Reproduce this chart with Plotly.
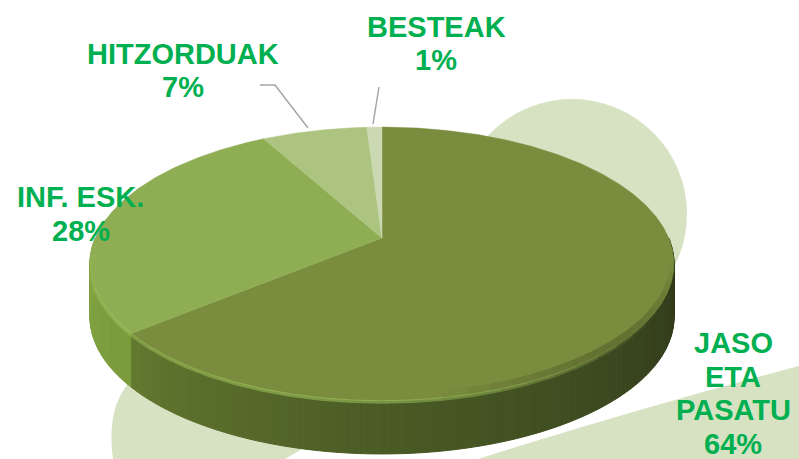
import numpy as np
import plotly.graph_objects as go

# ---------------- data ----------------
categories = ["JASO ETA PASATU", "INF. ESK.", "HITZORDUAK", "BESTEAK"]
values = [64, 28, 7, 1]
label_lines = [["JASO", "ETA", "PASATU"], ["INF. ESK."], ["HITZORDUAK"], ["BESTEAK"]]

# ---------------- styles / layout constants ----------------
W, H = 799, 459
top_rgb = [(122, 140, 62), (143, 174, 84), (172, 196, 128), (203, 217, 178)]
# side colour stops (angle, rgb) per slice: angle measured clockwise from 12 o'clock
side_stops = [
    [(90, (46, 54, 25)), (120, (54, 65, 29)), (180, (74, 91, 37)), (232, (100, 122, 48))],
    [(230, (122, 154, 60)), (270, (130, 165, 66))],
    [(330, (160, 185, 115))],
    [(356, (190, 205, 165))],
]
LABEL_COLOR = "rgb(0,176,80)"
FONT = "Liberation Sans, Arial, sans-serif"
FONT_SIZE = 29
LINE_PITCH = 33.5
# label anchor (centre x, cap-middle y of first line) per category
label_pos = [(733, 343), (80.5, 197), (182.5, 53.5), (436, 26.5)]

# perspective pie geometry (pixel space)
VX, VY = 382.0, 238.0
A, B, K = 286.7, 132.0, 0.19
DEPTH = 53.0


def proj(theta_deg, dy=0.0):
    t = np.radians(theta_deg)
    u = np.sin(t)
    v = -np.cos(t)
    w = 1 - K * v
    return VX + A * u / w, VY + B * v / w + dy


def rgb(c):
    return "rgb(%d,%d,%d)" % tuple(int(max(0, min(255, round(x)))) for x in c)


def side_color(i, t):
    stops = side_stops[i]
    if t <= stops[0][0]:
        return stops[0][1]
    for (t0, c0), (t1, c1) in zip(stops[:-1], stops[1:]):
        if t <= t1:
            f = (t - t0) / (t1 - t0)
            return tuple(a + (b - a) * f for a, b in zip(c0, c1))
    return stops[-1][1]


fig = go.Figure()

total = float(sum(values))
bounds = []
acc = 0.0
for v in values:
    a0 = acc / total * 360
    acc += v
    a1 = acc / total * 360
    bounds.append((a0, a1))

# ---- side wall (front visible part), drawn as shaded strips ----
for i, (a0, a1) in enumerate(bounds):
    s0, s1 = max(a0, 90), min(a1, 270)
    if s1 <= s0:
        continue
    n = max(1, int(np.ceil(s1 - s0)))
    ts = np.linspace(s0, s1, n + 1)
    for j in range(n):
        t0, t1 = ts[j], ts[j + 1]
        xa, ya = proj(t0)
        xb, yb = proj(t1)
        col = rgb(side_color(i, (t0 + t1) / 2))
        fig.add_trace(go.Scatter(
            x=[xa, xb, xb, xa, xa], y=[ya, yb, yb + DEPTH, ya + DEPTH, ya],
            mode="lines", fill="toself", fillcolor=col,
            line=dict(color=col, width=1), hoverinfo="skip", showlegend=False))

# ---- top faces ----
for i, (a0, a1) in enumerate(bounds):
    n = max(2, int(np.ceil(a1 - a0)) * 2)
    ts = np.linspace(a0, a1, n + 1)
    xs, ys = [VX], [VY]
    for t in ts:
        x, y = proj(t)
        xs.append(x)
        ys.append(y)
    xs.append(VX)
    ys.append(VY)
    fig.add_trace(go.Scatter(
        x=xs, y=ys, mode="lines", fill="toself", fillcolor=rgb(top_rgb[i]),
        line=dict(color=rgb(top_rgb[i]), width=0.5),
        name=categories[i], hoverinfo="name", showlegend=False))

# ---- soft bevel highlight on the front edge (segments with varying alpha) ----
seg = np.linspace(120, 270, 31)
for j in range(len(seg) - 1):
    tm = (seg[j] + seg[j + 1]) / 2
    alpha = 0.5 * np.sin(np.radians((tm - 120) / 150 * 180))
    pts = [proj(t, 1.0) for t in np.linspace(seg[j], seg[j + 1], 6)]
    px, py = zip(*pts)
    fig.add_trace(go.Scatter(x=px, y=py, mode="lines",
                             line=dict(color="rgba(170,208,100,%.3f)" % alpha, width=3.5),
                             hoverinfo="skip", showlegend=False))
# darker shading on the top face near the right-front rim
seg = np.linspace(102, 170, 18)
for j in range(len(seg) - 1):
    tm = (seg[j] + seg[j + 1]) / 2
    alpha = 0.3 * np.sin(np.radians((tm - 102) / 68 * 180))
    pts = [proj(t, -4.0) for t in np.linspace(seg[j], seg[j + 1], 6)]
    px, py = zip(*pts)
    fig.add_trace(go.Scatter(x=px, y=py, mode="lines",
                             line=dict(color="rgba(45,55,22,%.3f)" % alpha, width=7),
                             hoverinfo="skip", showlegend=False))

# ---- labels ----
annotations = []
for i, lines in enumerate(label_lines):
    pct = "%d%%" % round(values[i] / total * 100)
    cx, cy = label_pos[i]
    for k, txt in enumerate(lines + [pct]):
        annotations.append(dict(
            x=cx, y=cy + k * LINE_PITCH, xref="x", yref="y", text="<b>%s</b>" % txt,
            showarrow=False, xanchor="center", yanchor="middle",
            font=dict(family=FONT, size=FONT_SIZE, color=LABEL_COLOR)))

BG = "rgb(214,226,194)"
shapes = [
    dict(type="circle", xref="x", yref="y", x0=457, x1=687, y0=99, y1=329,
         fillcolor=BG, line=dict(width=0), layer="below"),
    dict(type="path", xref="x", yref="y",
         path="M 113,459 C 108,420 115,392 140,372 L 420,380 L 285,459 Z",
         fillcolor=BG, line=dict(width=0), layer="below"),
    dict(type="path", xref="x", yref="y",
         path="M 478,459 Q 640,408 799,366 L 799,459 Z",
         fillcolor=BG, line=dict(width=0), layer="below"),
    dict(type="path", xref="x", yref="y", path="M 260,85 L 275,85 L 308,128",
         line=dict(color="rgb(166,166,166)", width=1.5), layer="above"),
    dict(type="path", xref="x", yref="y", path="M 379,87 L 373,124",
         line=dict(color="rgb(166,166,166)", width=1.5), layer="above"),
]

fig.update_layout(
    width=W, height=H, margin=dict(l=0, r=0, t=0, b=0),
    paper_bgcolor="white", plot_bgcolor="white",
    xaxis=dict(range=[0, W], visible=False, fixedrange=True),
    yaxis=dict(range=[H, 0], visible=False, fixedrange=True),
    showlegend=False, annotations=annotations, shapes=shapes,
)

fig.write_html(
    "out.html",
    config={"displayModeBar": False},
    post_script="document.body.style.margin='0px';document.body.style.overflow='hidden';",
)
